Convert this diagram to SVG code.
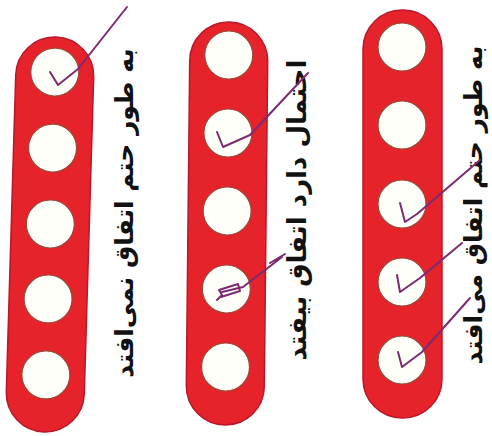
<svg xmlns="http://www.w3.org/2000/svg" width="492" height="436" viewBox="0 0 492 436">
<style>
.strip{fill:#e6222b;stroke:#b8182a;stroke-width:1.5}
.hole{fill:#fffffa;stroke:#9a4a3a;stroke-width:1.2}
.lbl{font-family:"DejaVu Sans",sans-serif;font-size:25px;font-weight:bold;fill:#111;text-anchor:middle;dominant-baseline:central}
.mark{fill:none;stroke:#7d2a72;stroke-width:2;stroke-linecap:round;stroke-linejoin:round}
</style>
<rect width="492" height="436" fill="#ffffff"/>
<g id="strip-left" transform="rotate(1.7 50 234)">
<rect class="strip" x="11" y="37" width="78" height="395" rx="39"/>
<circle class="hole" cx="50" cy="72" r="24"/>
<circle class="hole" cx="50" cy="148" r="24"/>
<circle class="hole" cx="50" cy="224" r="24"/>
<circle class="hole" cx="50" cy="299" r="24"/>
<circle class="hole" cx="50" cy="375" r="24"/>
</g>
<g id="strip-middle" transform="rotate(0.6 227 224)">
<rect class="strip" x="188" y="22" width="78" height="403" rx="39"/>
<circle class="hole" cx="227" cy="55" r="24"/>
<circle class="hole" cx="227" cy="133" r="24"/>
<circle class="hole" cx="227" cy="211" r="24"/>
<circle class="hole" cx="227" cy="289" r="24"/>
<circle class="hole" cx="227" cy="367" r="24"/>
</g>
<g id="strip-right">
<rect class="strip" x="363" y="10" width="79" height="408" rx="39"/>
<circle class="hole" cx="402" cy="47" r="24"/>
<circle class="hole" cx="402" cy="125" r="24"/>
<circle class="hole" cx="402" cy="204" r="24"/>
<circle class="hole" cx="402" cy="282" r="24"/>
<circle class="hole" cx="402" cy="360" r="24"/>
</g>
<g id="label-left"><text class="lbl" transform="translate(124 213) rotate(-90)">به طور حتم اتفاق نمی‌افتد</text></g>
<g id="label-middle"><text class="lbl" style="font-size:26px" transform="translate(297 210) rotate(-90)">احتمال دارد اتفاق بیفتد</text></g>
<g id="label-right"><text class="lbl" transform="translate(473 205) rotate(-90)">به طور حتم اتفاق می‌افتد</text></g>
<g id="connectors">
<path class="mark" d="M50 72 L58 85 L78 69 L127 7"/>
<path class="mark" d="M217 132 L223 147 L250 135 L308 73"/>
<path class="mark" stroke="#b0308a" d="M217 300 L222 295 L219 290 L238 284 L240 291 L221 297 M222 292 L243 287 L282 257 M270 263 L285 254"/>
<path class="mark" d="M400 203 L405 222 L417 214 L480 160"/>
<path class="mark" d="M397 275 L400 292 L420 278 L462 243"/>
<path class="mark" d="M398 352 L402 367 L422 352 L470 298"/>
</g>
</svg>
